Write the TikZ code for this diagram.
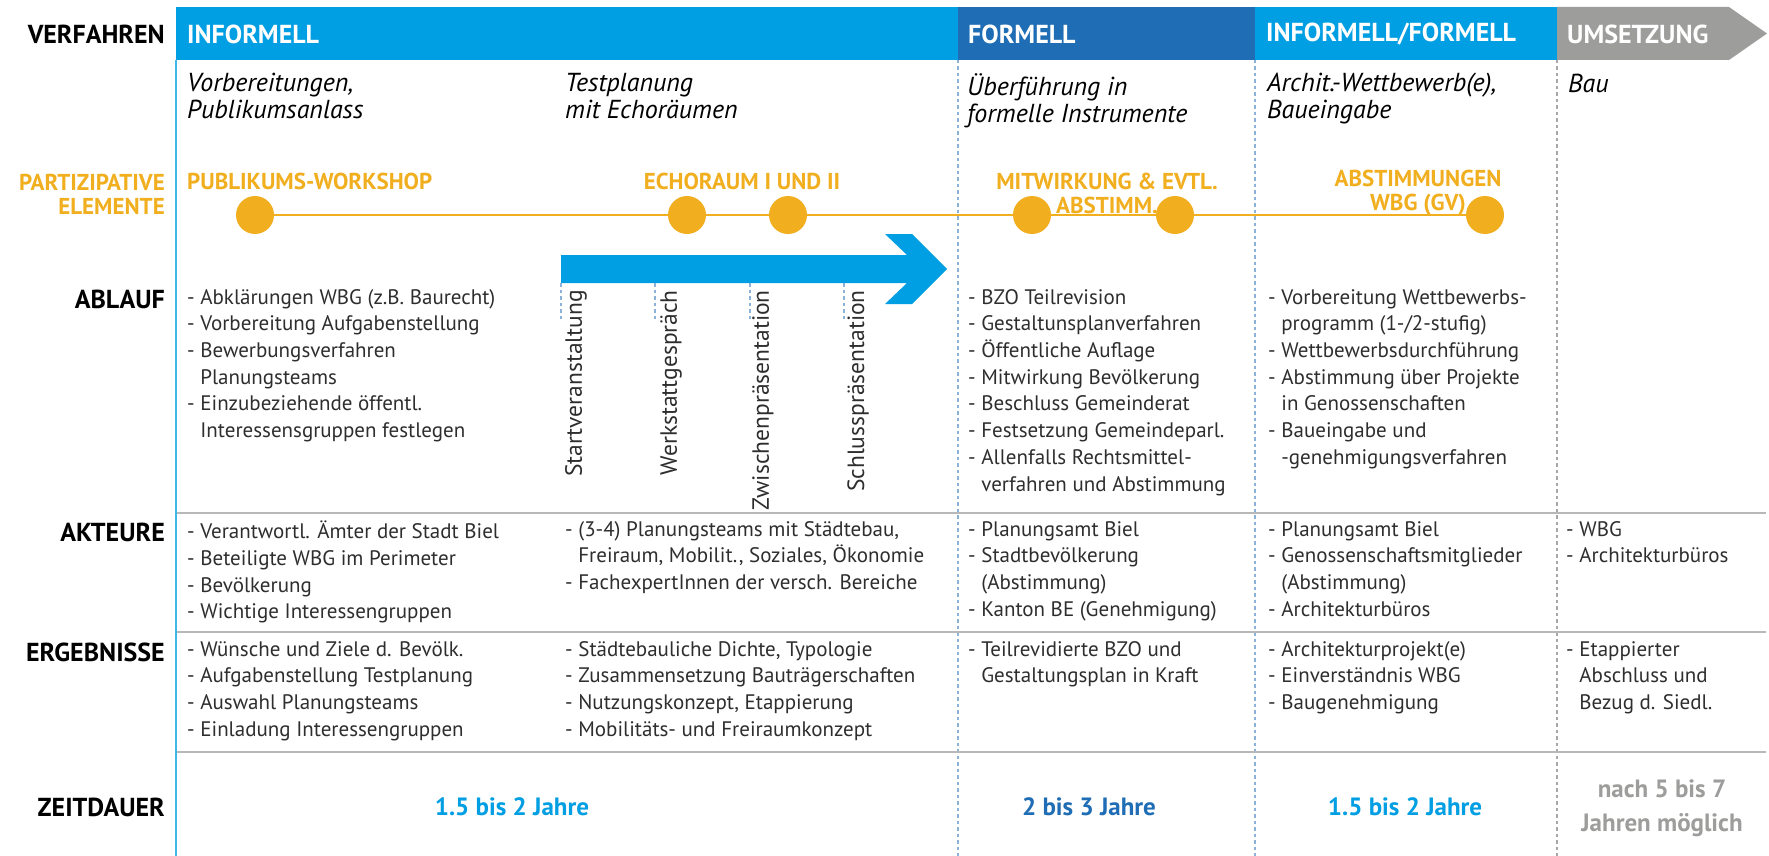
\documentclass[tikz,border=0pt]{standalone}
\usepackage{fontspec}
\setmainfont{PT Sans}
\definecolor{lblue}{HTML}{009EE2}
\definecolor{dblue}{HTML}{1F6DB5}
\definecolor{hgray}{HTML}{9D9D9C}
\definecolor{orng}{HTML}{F1AF1F}
\definecolor{txt}{HTML}{2E2E2E}
\definecolor{dashblue}{HTML}{8CB2DA}
\definecolor{dashgray}{HTML}{A8A8A8}
\definecolor{rulegray}{HTML}{B8B8B8}
\newcommand{\hang}{\hphantom{- }}
\begin{document}
\begin{tikzpicture}[x=1pt,y=-1pt,
  rowlabel/.style={anchor=east, inner sep=0, font=\bfseries\fontsize{26}{30}\selectfont, text=black},
  phase/.style={anchor=west, inner sep=0, font=\bfseries\fontsize{26}{30}\selectfont, text=white},
  subtitle/.style={anchor=north west, inner sep=0, align=left, font=\itshape\fontsize{26}{27}\selectfont, text=black, execute at begin node=\strut},
  items/.style={anchor=north west, inner sep=0, align=left, font=\fontsize{21}{26.7}\selectfont, text=txt, execute at begin node=\strut},
  milestone/.style={rotate=90, anchor=east, inner sep=0, font=\fontsize{23.5}{26.7}\selectfont, text=txt},
  partlabel/.style={inner sep=0, font=\bfseries\fontsize{23}{24}\selectfont, text=orng},
  dot/.style={circle, fill=orng, inner sep=0, minimum size=38pt},
  duration/.style={inner sep=0, align=center, font=\bfseries\fontsize{25}{34}\selectfont},
  colsep/.style={line width=1.6pt, dash pattern=on 3.5pt off 3pt},
  rowrule/.style={line width=2pt, rulegray},
  tick/.style={line width=1.6pt, dashblue, dash pattern=on 3.5pt off 3pt}
]
\useasboundingbox[fill=white] (0,0) rectangle (1769,856);

% phase bar
\fill[lblue] (176,7) rectangle (958,60);
\fill[dblue] (958,7) rectangle (1255,60);
\fill[lblue] (1255,7) rectangle (1557,60);
\fill[hgray] (1557,7) -- (1729,7) -- (1767,33.5) -- (1729,60) -- (1557,60) -- cycle;

% grid lines
\coordinate (top0) at (176,60);   \coordinate (bot0) at (176,856);
\coordinate (top1) at (958,60);   \coordinate (bot1) at (958,856);
\coordinate (top2) at (1255,60);  \coordinate (bot2) at (1255,856);
\coordinate (top3) at (1557,60);  \coordinate (bot3) at (1557,856);
\draw[line width=2pt, lblue!75] (top0) -- (bot0);
\draw[colsep, dashblue] (top1) -- (bot1);
\draw[colsep, dashblue] (top2) -- (bot2);
\draw[colsep, dashgray] (top3) -- (bot3);
\foreach \y/\n in {513/a, 632/b, 752/c}{
  \coordinate (rl\n) at (177,\y);
  \coordinate (rr\n) at (1766,\y);
  \draw[rowrule] (rl\n) -- (rr\n);
}

% row labels
\node[rowlabel] (lverf) at (165,34) {VERFAHREN};
\node[rowlabel, text=orng, align=right, font=\bfseries\fontsize{23}{24}\selectfont] (lpart) at (165,194) {PARTIZIPATIVE\\ELEMENTE};
\node[rowlabel] (lablauf) at (165,299) {ABLAUF};
\node[rowlabel] (lakt) at (165,532) {AKTEURE};
\node[rowlabel] (lerg) at (165,652) {ERGEBNISSE};
\node[rowlabel] (lzeit) at (165,807) {ZEITDAUER};

% phase names
\node[phase] (p1) at (187,34) {INFORMELL};
\node[phase] (p2) at (968,34) {FORMELL};
\node[phase] (p3) at (1266,34) {INFORMELL/FORMELL};
\node[phase] (p4) at (1567,34) {UMSETZUNG};

% step subtitles
\node[subtitle] (s1) at (187,73) {Vorbereitungen,\\Publikumsanlass};
\node[subtitle] (s2) at (565,73) {Testplanung\\mit Echoräumen};
\node[subtitle] (s3) at (967,73) {Überführung in\\formelle Instrumente};
\node[subtitle] (s4) at (1267,73) {Archit.-Wettbewerb(e),\\Baueingabe};
\node[subtitle] (s5) at (1568,73) {Bau};

% participation timeline
\node[partlabel, anchor=west] (e1) at (187,181) {PUBLIKUMS-WORKSHOP};
\node[partlabel] (e2) at (742,181) {ECHORAUM I UND II};
\node[partlabel, align=center] (e3) at (1107,193) {MITWIRKUNG \& EVTL.\\ABSTIMM.};
\node[partlabel, align=center] (e4) at (1418,193) {ABSTIMMUNGEN\\WBG (GV)};
\node[dot] (d1) at (255,215) {};
\node[dot] (d2) at (687,215) {};
\node[dot] (d3) at (788,215) {};
\node[dot] (d4) at (1032,215) {};
\node[dot] (d5) at (1175,215) {};
\node[dot] (d6) at (1485,215) {};
\draw[orng, line width=2pt] (d1) -- (d2) -- (d3) -- (d4) -- (d5) -- (d6);

% test planning arrow
\fill[lblue] (561,255) -- (907,255) -- (885,234) -- (912,234) -- (947,269)
  -- (912,304) -- (885,304) -- (907,283) -- (561,283) -- cycle;
\foreach \x/\n in {561/a, 655/b, 750/c, 844/d}{
  \coordinate (ta\n) at (\x,283);
  \coordinate (tb\n) at (\x,321);
  \draw[tick] (ta\n) -- (tb\n);
}
\node[milestone] (m1) at (576,290) {Startveranstaltung};
\node[milestone] (m2) at (671,290) {Werkstattgespräch};
\node[milestone] (m3) at (763,290) {Zwischenpräsentation};
\node[milestone] (m4) at (858,290) {Schlusspräsentation};

% ABLAUF
\node[items] (a1) at (187,289) {- Abklärungen WBG (z.B. Baurecht)\\- Vorbereitung Aufgabenstellung\\- Bewerbungsverfahren\\\hang Planungsteams\\- Einzubeziehende öffentl.\\\hang Interessensgruppen festlegen};
\node[items] (a3) at (968,289) {- BZO Teilrevision\\- Gestaltunsplanverfahren\\- Öffentliche Auflage\\- Mitwirkung Bevölkerung\\- Beschluss Gemeinderat\\- Festsetzung Gemeindeparl.\\- Allenfalls Rechtsmittel-\\\hang verfahren und Abstimmung};
\node[items] (a4) at (1268,289) {- Vorbereitung Wettbewerbs-\\\hang programm (1-/2-stufig)\\- Wettbewerbsdurchführung\\- Abstimmung über Projekte\\\hang in Genossenschaften\\- Baueingabe und\\\hang -genehmigungsverfahren};

% AKTEURE
\node[items] (k1) at (187,521) {- Verantwortl. Ämter der Stadt Biel\\- Beteiligte WBG im Perimeter\\- Bevölkerung\\- Wichtige Interessengruppen};
\node[items] (k2) at (565,521) {- (3-4) Planungsteams mit Städtebau,\\\hang Freiraum, Mobilit., Soziales, Ökonomie\\- FachexpertInnen der versch. Bereiche};
\node[items] (k3) at (968,521) {- Planungsamt Biel\\- Stadtbevölkerung\\\hang (Abstimmung)\\- Kanton BE (Genehmigung)};
\node[items] (k4) at (1268,521) {- Planungsamt Biel\\- Genossenschaftsmitglieder\\\hang (Abstimmung)\\- Architekturbüros};
\node[items] (k5) at (1566,521) {- WBG\\- Architekturbüros};

% ERGEBNISSE
\node[items] (r1) at (187,641) {- Wünsche und Ziele d. Bevölk.\\- Aufgabenstellung Testplanung\\- Auswahl Planungsteams\\- Einladung Interessengruppen};
\node[items] (r2) at (565,641) {- Städtebauliche Dichte, Typologie\\- Zusammensetzung Bauträgerschaften\\- Nutzungskonzept, Etappierung\\- Mobilitäts- und Freiraumkonzept};
\node[items] (r3) at (968,641) {- Teilrevidierte BZO und\\\hang Gestaltungsplan in Kraft};
\node[items] (r4) at (1268,641) {- Architekturprojekt(e)\\- Einverständnis WBG\\- Baugenehmigung};
\node[items] (r5) at (1566,641) {- Etappierter\\\hang Abschluss und\\\hang Bezug d. Siedl.};

% ZEITDAUER
\node[duration, text=lblue] (z1) at (512,807) {1.5 bis 2 Jahre};
\node[duration, text=dblue] (z2) at (1089,807) {2 bis 3 Jahre};
\node[duration, text=lblue] (z3) at (1405,807) {1.5 bis 2 Jahre};
\node[duration, text=hgray] (z4) at (1662,808) {nach 5 bis 7\\Jahren möglich};
\end{tikzpicture}
\end{document}
